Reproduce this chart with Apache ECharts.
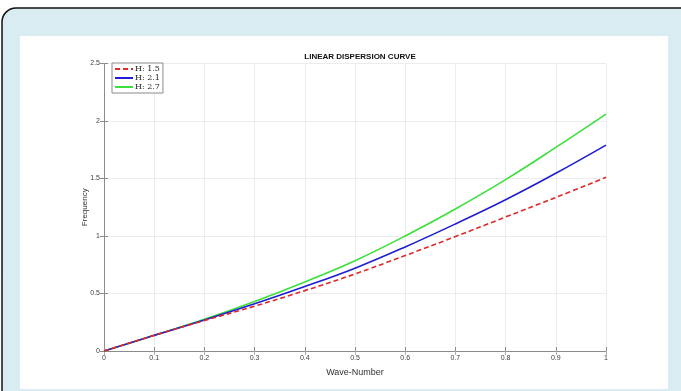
<!DOCTYPE html>
<html>
<head>
<meta charset="utf-8">
<script src="https://cdn.jsdelivr.net/npm/echarts@6/dist/echarts.min.js"></script>
<style>
html,body{margin:0;padding:0;background:#fff;}
#c{width:681px;height:391px;}
</style>
</head>
<body>
<div id="c"></div>
<script>
var waveNumber = [0, 0.1, 0.2, 0.3, 0.4, 0.5, 0.6, 0.7, 0.8, 0.9, 1.0];
var freqH15 = [0, 0.136, 0.265, 0.39, 0.525, 0.67, 0.83, 0.995, 1.165, 1.335, 1.51];
var freqH21 = [0, 0.136, 0.27, 0.41, 0.56, 0.72, 0.905, 1.105, 1.315, 1.545, 1.79];
var freqH27 = [0, 0.136, 0.275, 0.43, 0.60, 0.785, 1.00, 1.235, 1.49, 1.77, 2.06];
var seriesNames = ['H: 1.5', 'H: 2.1', 'H: 2.7'];
var xTicks = ['0','0.1','0.2','0.3','0.4','0.5','0.6','0.7','0.8','0.9','1'];
var yTicks = ['0','0.5','1','1.5','2','2.5'];

function pairs(ys){ return waveNumber.map(function(x,i){ return [x, ys[i]]; }); }

var chart = echarts.init(document.getElementById('c'), null, {renderer:'canvas'});
var axisCol = '#8c8c8c';
var labelStyle = {color:'#404040', fontSize:7, fontFamily:'Liberation Sans, Arial, sans-serif'};
chart.setOption({
  animation:false,
  backgroundColor:'transparent',
  graphic:[
    {type:'rect', z:-10, shape:{x:2, y:8, width:700, height:420, r:14},
     style:{fill:'#d8ecf1', stroke:'#111', lineWidth:1.5}},
    {type:'rect', z:-9, shape:{x:20, y:36, width:648, height:353},
     style:{fill:'#ffffff'}}
  ],
  title:{
    text:'LINEAR DISPERSION CURVE', left:355, top:48, textAlign:'center',
    textStyle:{fontSize:8, fontWeight:'bold', color:'#111', fontFamily:'Liberation Sans, Arial, sans-serif'}
  },
  legend:{
    orient:'vertical', left:112, top:63, itemGap:1, itemWidth:18, itemHeight:10,
    padding:[2,3,2,2], borderColor:'#8a8a8a', borderWidth:1, backgroundColor:'#fff',
    itemStyle:{opacity:0},
    textStyle:{fontSize:8, color:'#222', fontFamily:'DejaVu Serif, Liberation Serif, serif', padding:[0,0,0,-3]},
    data:seriesNames
  },
  grid:{left:104, right:75, top:63.5, bottom:40, containLabel:false},
  xAxis:[{
    type:'value', min:0, max:1, interval:0.1,
    name:'Wave-Number', nameLocation:'middle', nameGap:17, nameMoveOverlap:false,
    nameTextStyle:{fontSize:9, color:'#333', fontFamily:'Liberation Sans, Arial, sans-serif'},
    axisLine:{show:true, lineStyle:{color:axisCol, width:1}},
    axisTick:{show:true, inside:true, length:4, lineStyle:{color:axisCol}},
    axisLabel:Object.assign({margin:4, formatter:function(v){ var i=Math.round(v*10); return xTicks[i]; }}, labelStyle),
    splitLine:{show:true, lineStyle:{color:'#ececec', width:1}}
  },{
    type:'value', min:0, max:1, interval:0.1, position:'top',
    axisLine:{show:false},
    axisTick:{show:true, inside:true, length:4, lineStyle:{color:'#b0b0b0'}},
    axisLabel:{show:false}, splitLine:{show:false}
  }],
  yAxis:[{
    type:'value', min:0, max:2.5, interval:0.5,
    name:'Frequency', nameLocation:'middle', nameGap:15, nameRotate:90, nameMoveOverlap:false,
    nameTextStyle:{fontSize:8, color:'#333', fontFamily:'Liberation Sans, Arial, sans-serif'},
    axisLine:{show:true, lineStyle:{color:axisCol, width:1}},
    axisTick:{show:true, inside:true, length:4, lineStyle:{color:axisCol}},
    axisLabel:Object.assign({margin:4, formatter:function(v){ var i=Math.round(v*2); return yTicks[i]; }}, labelStyle),
    splitLine:{show:true, lineStyle:{color:'#ececec', width:1}}
  },{
    type:'value', min:0, max:2.5, interval:0.5, position:'right',
    axisLine:{show:true, lineStyle:{color:axisCol, width:1}},
    axisTick:{show:true, inside:true, length:4, lineStyle:{color:axisCol}},
    axisLabel:{show:false}, splitLine:{show:false}
  }],
  series:[
    {name:seriesNames[0], type:'line', smooth:0.4, showSymbol:false, symbol:'none',
     data:pairs(freqH15), lineStyle:{color:'#e02828', width:1.6, type:[5,3]}, itemStyle:{color:'#e02828'}, z:3},
    {name:seriesNames[1], type:'line', smooth:0.4, showSymbol:false, symbol:'none',
     data:pairs(freqH21), lineStyle:{color:'#1e1ed2', width:1.6}, itemStyle:{color:'#1e1ed2'}, z:2},
    {name:seriesNames[2], type:'line', smooth:0.4, showSymbol:false, symbol:'none',
     data:pairs(freqH27), lineStyle:{color:'#3be03b', width:1.6}, itemStyle:{color:'#3be03b'}, z:1}
  ]
});
</script>
</body>
</html>
